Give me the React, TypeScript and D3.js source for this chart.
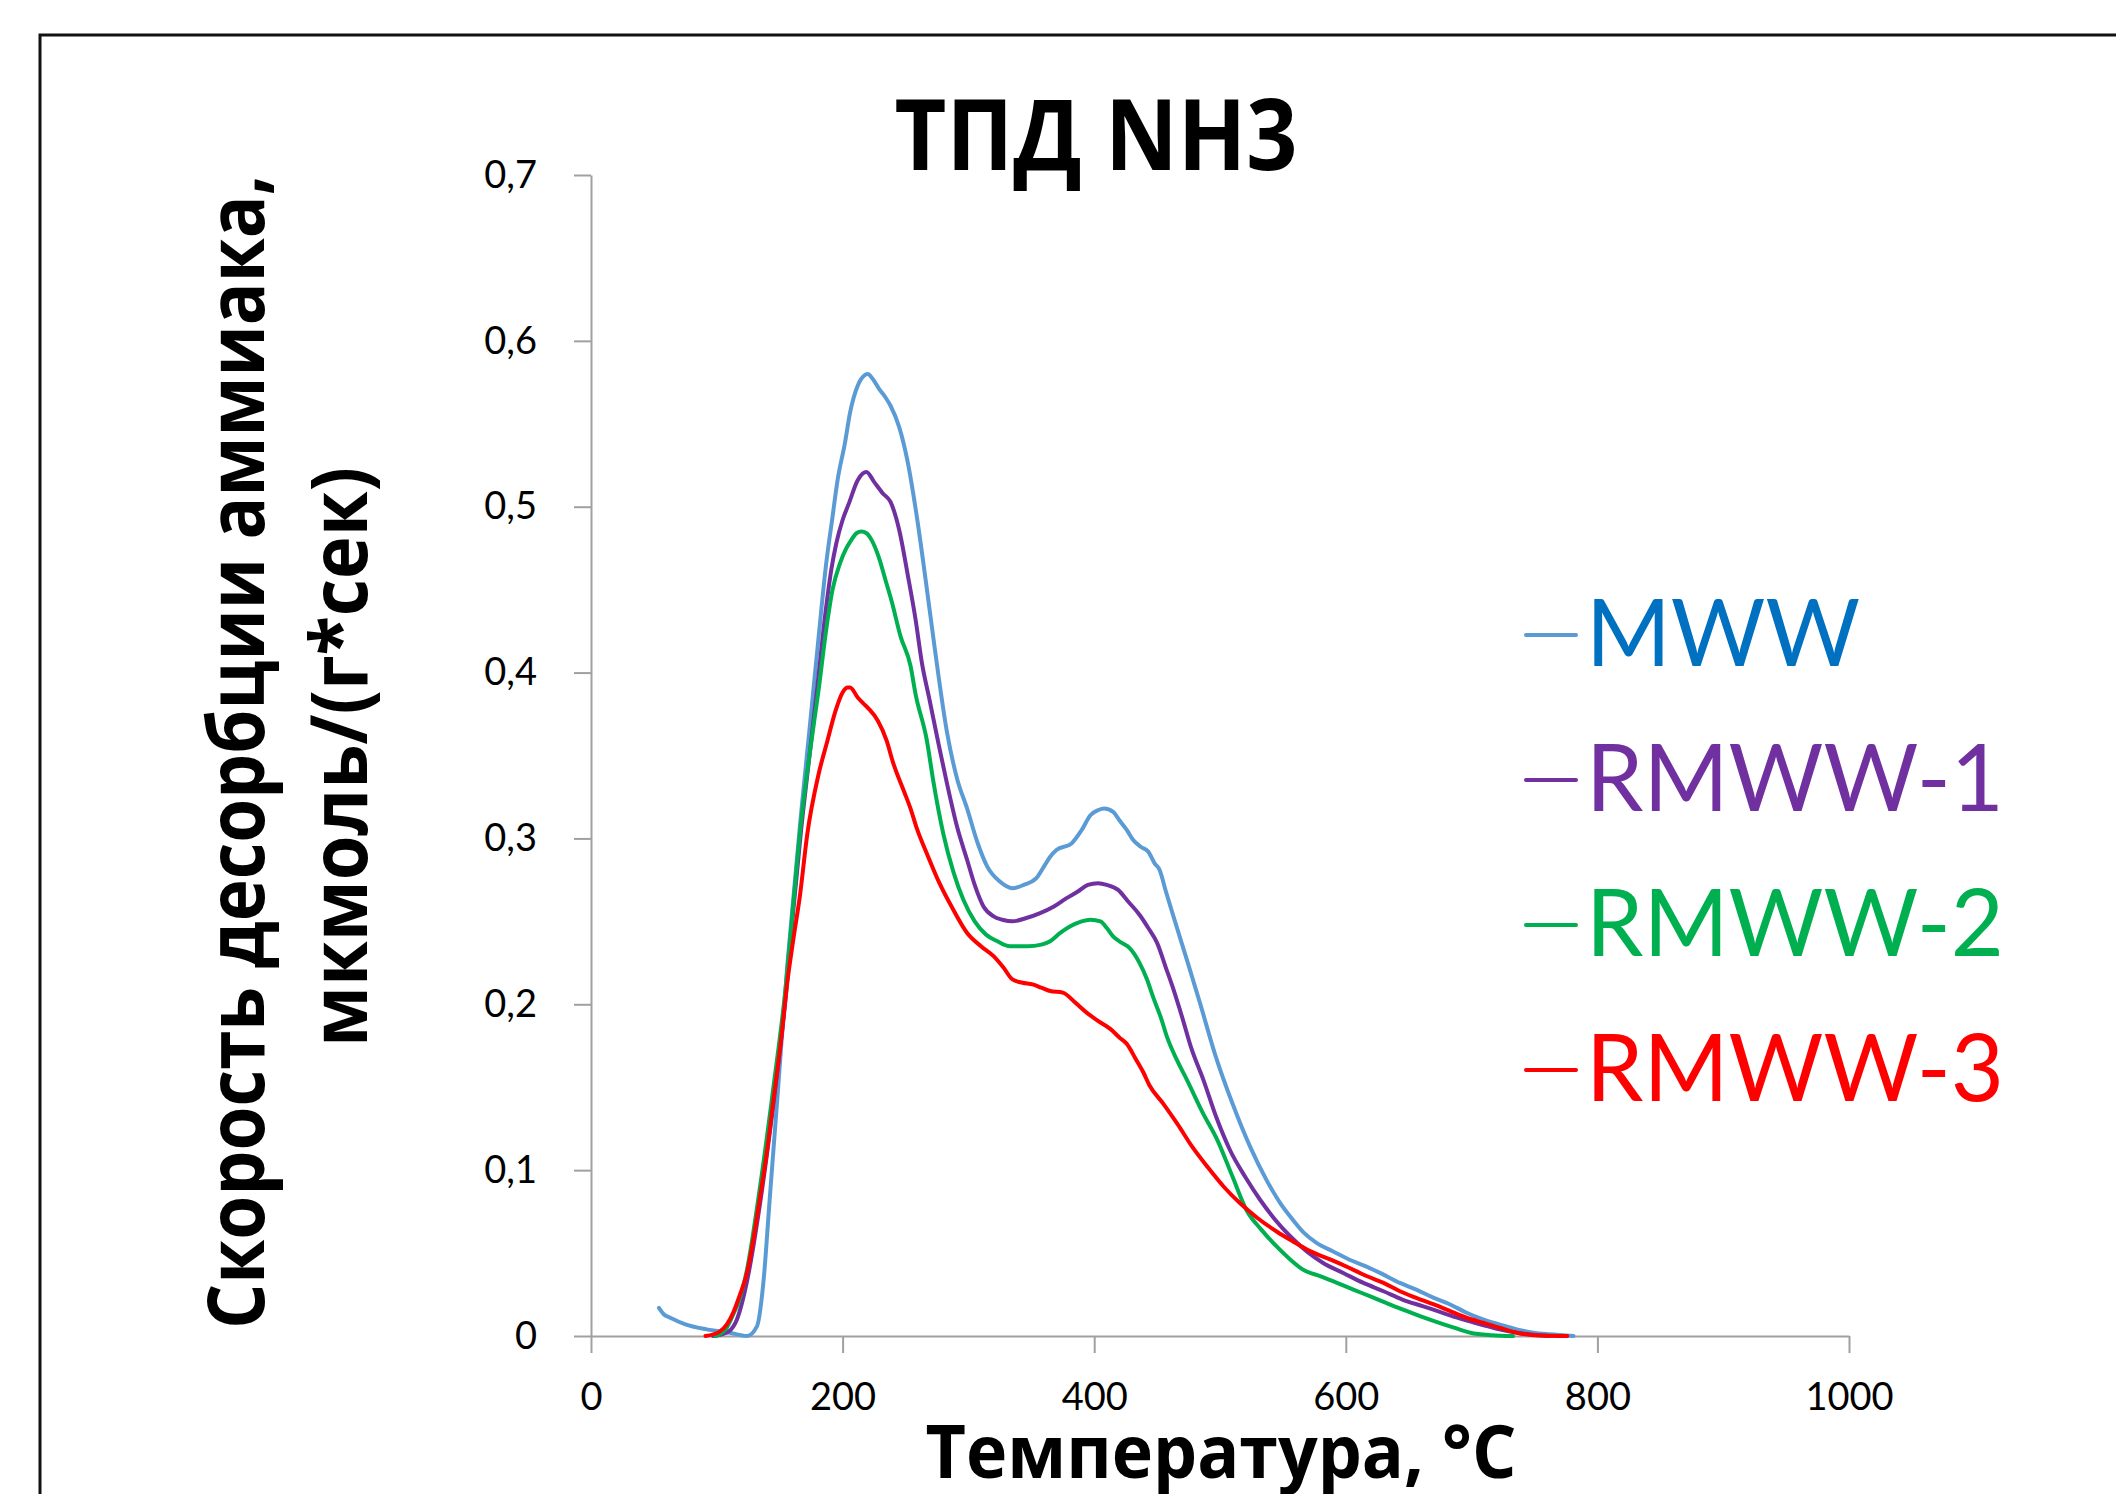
import React, { useEffect, useRef } from 'react'
import * as d3 from 'd3'

// temperature (°C), desorption rate
const mww: [number, number][] = [
  [54, 0.017], [58, 0.013], [63, 0.011], [75, 0.007], [92, 0.004], [110, 0.002], [124, 0.0], [132, 0.006],
  [137, 0.032], [142, 0.082], [148, 0.142], [156, 0.223], [161, 0.265], [167, 0.315], [174, 0.368], [181, 0.422],
  [187, 0.466], [192, 0.494], [196, 0.516], [202, 0.539], [206, 0.557], [212, 0.573], [217, 0.579], [220, 0.58],
  [224, 0.577], [229, 0.571], [234, 0.566], [238, 0.561], [245, 0.548], [252, 0.526], [259, 0.494], [266, 0.456],
  [273, 0.416], [283, 0.364], [291, 0.336], [299, 0.318], [307, 0.298], [315, 0.283], [325, 0.274], [335, 0.27],
  [344, 0.272], [354, 0.276], [360, 0.283], [365, 0.289], [370, 0.293], [382, 0.297], [390, 0.305], [397, 0.314],
  [403, 0.317], [408, 0.318], [415, 0.316], [420, 0.311], [426, 0.305], [431, 0.299], [437, 0.295], [443, 0.292],
  [448, 0.285], [452, 0.281], [457, 0.268], [463, 0.253], [474, 0.226], [484, 0.201], [496, 0.17], [510, 0.14],
  [524, 0.114], [537, 0.094], [548, 0.08], [558, 0.07], [567, 0.062], [577, 0.056], [590, 0.051], [603, 0.046],
  [616, 0.042], [630, 0.037], [643, 0.032], [656, 0.028], [670, 0.023], [683, 0.019], [696, 0.014], [709, 0.01],
  [722, 0.007], [736, 0.004], [749, 0.002], [762, 0.001], [781, 0.0],
]

const rmww1: [number, number][] = [
  [97, 0.0], [104, 0.001], [110, 0.003], [116, 0.01], [124, 0.033], [134, 0.078], [145, 0.14], [155, 0.206],
  [161, 0.258], [167, 0.305], [174, 0.352], [180, 0.392], [187, 0.44], [191, 0.462], [195, 0.478], [200, 0.492],
  [205, 0.502], [212, 0.516], [216, 0.52], [219, 0.521], [225, 0.515], [232, 0.508], [238, 0.503], [245, 0.486],
  [252, 0.458], [258, 0.432], [263, 0.406], [269, 0.384], [276, 0.358], [283, 0.333], [291, 0.307], [299, 0.287],
  [305, 0.272], [312, 0.259], [320, 0.253], [327, 0.251], [335, 0.25], [346, 0.252], [357, 0.255], [368, 0.259],
  [378, 0.264], [387, 0.268], [395, 0.272], [403, 0.273], [410, 0.272], [419, 0.269], [427, 0.262], [436, 0.254],
  [443, 0.246], [450, 0.237], [457, 0.222], [463, 0.209], [470, 0.192], [477, 0.174], [487, 0.154], [497, 0.132],
  [508, 0.112], [520, 0.096], [532, 0.082], [544, 0.07], [556, 0.06], [569, 0.051], [582, 0.044], [598, 0.038],
  [614, 0.032], [630, 0.027], [645, 0.022], [661, 0.018], [677, 0.014], [693, 0.01], [709, 0.0066], [722, 0.004],
  [736, 0.002], [762, 0.0],
]

const rmww2: [number, number][] = [
  [99, 0.0], [107, 0.004], [113, 0.013], [118, 0.022], [124, 0.04], [134, 0.088], [145, 0.15], [155, 0.212],
  [161, 0.262], [167, 0.31], [174, 0.352], [181, 0.39], [187, 0.426], [192, 0.45], [198, 0.466], [203, 0.475],
  [207, 0.48], [211, 0.484], [215, 0.485], [219, 0.484], [223, 0.48], [229, 0.469], [234, 0.456], [239, 0.443],
  [246, 0.422], [254, 0.404], [258, 0.387], [267, 0.359], [272, 0.335], [280, 0.303], [288, 0.28], [296, 0.263],
  [305, 0.25], [314, 0.242], [323, 0.238], [333, 0.235], [347, 0.235], [358, 0.236], [365, 0.238], [373, 0.243],
  [381, 0.247], [390, 0.25], [397, 0.251], [405, 0.25], [410, 0.246], [415, 0.241], [422, 0.237], [428, 0.234],
  [436, 0.225], [442, 0.215], [447, 0.204], [453, 0.192], [458, 0.18], [466, 0.166], [474, 0.154], [486, 0.135],
  [498, 0.118], [510, 0.096], [521, 0.076], [533, 0.064], [545, 0.054], [556, 0.046], [566, 0.04], [580, 0.036],
  [593, 0.032], [606, 0.028], [619, 0.024], [632, 0.02], [645, 0.016], [659, 0.012], [672, 0.0085], [686, 0.005],
  [699, 0.002], [716, 0.0005], [733, 0.0],
]

const rmww3: [number, number][] = [
  [91, 0.0], [102, 0.0025], [108, 0.007], [113, 0.014], [118, 0.024], [124, 0.038], [129, 0.058], [134, 0.082],
  [140, 0.112], [145, 0.142], [151, 0.178], [156, 0.213], [161, 0.24], [166, 0.265], [172, 0.303], [181, 0.339],
  [188, 0.359], [194, 0.376], [200, 0.388], [204, 0.391], [206, 0.391], [212, 0.385], [217, 0.381], [221, 0.378],
  [228, 0.371], [235, 0.359], [240, 0.346], [249, 0.328], [254, 0.318], [259, 0.306], [268, 0.289], [277, 0.273],
  [288, 0.257], [299, 0.243], [310, 0.235], [320, 0.229], [328, 0.222], [335, 0.215], [343, 0.213], [351, 0.212],
  [358, 0.21], [365, 0.208], [375, 0.207], [385, 0.201], [394, 0.195], [403, 0.19], [413, 0.185], [420, 0.18],
  [426, 0.176], [433, 0.167], [439, 0.159], [444, 0.151], [455, 0.14], [466, 0.128], [478, 0.114], [490, 0.102],
  [503, 0.09], [516, 0.08], [530, 0.071], [545, 0.063], [558, 0.057], [572, 0.051], [588, 0.046], [603, 0.041],
  [617, 0.036], [630, 0.032], [643, 0.027], [656, 0.023], [670, 0.019], [683, 0.015], [696, 0.011], [709, 0.008],
  [722, 0.005], [736, 0.002], [750, 0.0005], [776, 0.0],
]

const seriesNames = ['MWW', 'RMWW-1', 'RMWW-2', 'RMWW-3']
const seriesData = [mww, rmww1, rmww2, rmww3]
const lineColors = ['#5B9BD5', '#7030A0', '#00B050', '#FF0000']
const labelColors = ['#0070C0', '#7030A0', '#00B050', '#FF0000']

const xTicks = [0, 200, 400, 600, 800, 1000]
const xTickLabels = ['0', '200', '400', '600', '800', '1000']
const yTicks = [0, 0.1, 0.2, 0.3, 0.4, 0.5, 0.6, 0.7]
const yTickLabels = ['0', '0,1', '0,2', '0,3', '0,4', '0,5', '0,6', '0,7']

const W = 2116
const H = 1494
const CYR = '"Open Sans", "Noto Sans", sans-serif'
const LAT = 'Lato, "Open Sans", sans-serif'

export default function App() {
  const ref = useRef<SVGSVGElement>(null)

  useEffect(() => {
    const svg = d3.select(ref.current)
    svg.selectAll('*').remove()

    const x = d3.scaleLinear().domain([0, 1000]).range([591, 1849])
    const y = d3.scaleLinear().domain([0, 0.7]).range([1336, 175])

    // outer frame
    svg.append('rect')
      .attr('x', 40).attr('y', 35)
      .attr('width', 2200).attr('height', 1600)
      .attr('fill', 'none').attr('stroke', '#111').attr('stroke-width', 3)

    svg.append('text')
      .attr('x', 1096).attr('y', 170)
      .attr('text-anchor', 'middle')
      .attr('font-family', CYR).attr('font-weight', 700).attr('font-size', 98)
      .attr('textLength', 403).attr('lengthAdjust', 'spacingAndGlyphs')
      .text('ТПД NH3')

    const axisColor = '#A0A0A0'

    const gy = svg.append('g')
      .attr('transform', `translate(${x(0)},0)`)
      .call(d3.axisLeft(y).tickValues(yTicks).tickSize(17).tickPadding(37).tickSizeOuter(0)
        .tickFormat((d, i) => yTickLabels[i]))
    gy.select('.domain').attr('stroke', axisColor).attr('stroke-width', 2)
    gy.selectAll('.tick line').attr('stroke', axisColor).attr('stroke-width', 2)
    gy.selectAll('.tick text')
      .attr('font-family', LAT).attr('font-size', 38).attr('fill', '#000')

    const gx = svg.append('g')
      .attr('transform', `translate(0,${y(0)})`)
      .call(d3.axisBottom(x).tickValues(xTicks).tickSize(17).tickSizeOuter(0)
        .tickFormat((d, i) => xTickLabels[i]))
    gx.select('.domain').attr('stroke', axisColor).attr('stroke-width', 2)
    gx.selectAll('.tick line').attr('stroke', axisColor).attr('stroke-width', 2)
    gx.selectAll('.tick text')
      .attr('font-family', LAT).attr('font-size', 38).attr('fill', '#000')
      .attr('y', 74).attr('dy', 0)

    const line = d3.line<[number, number]>()
      .x(d => x(d[0]))
      .y(d => y(d[1]))
      .curve(d3.curveMonotoneX)

    seriesData.forEach((data, i) => {
      svg.append('path')
        .datum(data)
        .attr('d', line)
        .attr('fill', 'none')
        .attr('stroke', lineColors[i])
        .attr('stroke-width', 4)
        .attr('stroke-linejoin', 'round')
        .attr('stroke-linecap', 'round')
    })

    // axis titles
    svg.append('text')
      .attr('x', 1221).attr('y', 1478)
      .attr('text-anchor', 'middle')
      .attr('font-family', CYR).attr('font-weight', 700).attr('font-size', 74)
      .attr('textLength', 591).attr('lengthAdjust', 'spacingAndGlyphs')
      .text('Температура, °C')

    const ytitle = svg.append('g')
      .attr('font-family', CYR).attr('font-weight', 700).attr('font-size', 78)
      .attr('text-anchor', 'middle')
    ytitle.append('text')
      .attr('transform', 'translate(264,752) rotate(-90)')
      .attr('textLength', 1154).attr('lengthAdjust', 'spacingAndGlyphs')
      .text('Скорость десорбции аммиака,')
    ytitle.append('text')
      .attr('transform', 'translate(367,757) rotate(-90)')
      .attr('textLength', 580).attr('lengthAdjust', 'spacingAndGlyphs')
      .text('мкмоль/(г*сек)')

    // legend
    const legend = svg.append('g')
    seriesNames.forEach((name, i) => {
      const base = 666 + i * 145
      legend.append('line')
        .attr('x1', 1526).attr('x2', 1576)
        .attr('y1', base - 31).attr('y2', base - 31)
        .attr('stroke', lineColors[i]).attr('stroke-width', 4)
        .attr('stroke-linecap', 'round')
      legend.append('text')
        .attr('x', 1586).attr('y', base)
        .attr('font-family', LAT).attr('font-size', 93)
        .attr('fill', labelColors[i])
        .attr('textLength', name === 'MWW' ? 274 : 418)
        .attr('lengthAdjust', 'spacingAndGlyphs')
        .text(name)
    })
  }, [])

  return (
    <svg
      ref={ref}
      width={W}
      height={H}
      style={{ position: 'absolute', left: 0, top: 0, background: '#fff' }}
    />
  )
}
